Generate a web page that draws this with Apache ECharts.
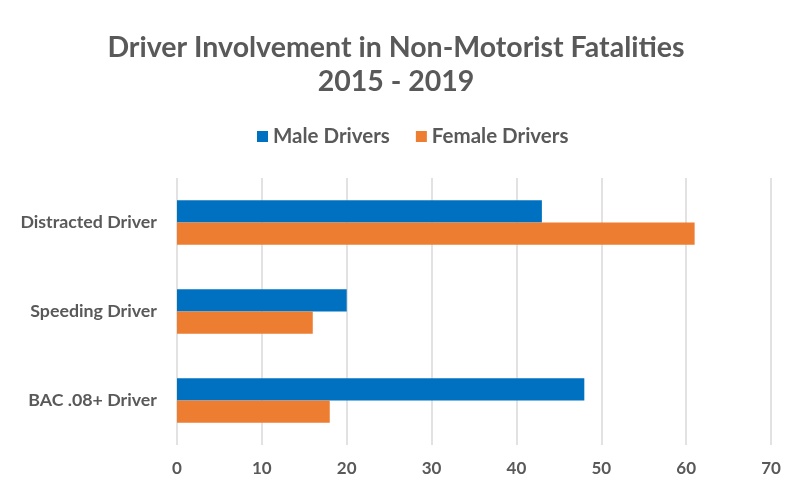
<!DOCTYPE html>
<html>
<head>
<meta charset="utf-8">
<script src="https://cdn.jsdelivr.net/npm/echarts@6/dist/echarts.min.js"></script>
<style>
  html, body { margin: 0; padding: 0; background: #fff; }
  #chart { width: 792px; height: 484px; }
</style>
</head>
<body>
<div id="chart"></div>
<script>
// Driver involvement data, 2015 - 2019
const categories = ['Distracted Driver', 'Speeding Driver', 'BAC .08+ Driver'];
const maleDrivers = [43, 20, 48];
const femaleDrivers = [61, 16, 18];
const xTicks = { min: 0, max: 70, interval: 10 };

const textColor = '#595959';
const font = 'Lato, "Open Sans", sans-serif';

const chart = echarts.init(document.getElementById('chart'), null, { renderer: 'canvas' });
chart.setOption({
  animation: false,
  backgroundColor: '#ffffff',
  title: {
    text: 'Driver Involvement in Non-Motorist Fatalities\n2015 - 2019',
    left: 'center',
    top: 26,
    textStyle: {
      fontFamily: font,
      fontWeight: 'bold',
      fontSize: 28.5,
      lineHeight: 34,
      color: textColor
    }
  },
  legend: {
    top: 121,
    left: 252,
    itemWidth: 11,
    itemHeight: 11,
    itemGap: 26,
    icon: 'rect',
    textStyle: { fontFamily: font, fontWeight: 'bold', fontSize: 20.5, color: textColor }
  },
  grid: { left: 177, right: 21, top: 178, bottom: 39, containLabel: false },
  xAxis: {
    type: 'value',
    min: xTicks.min,
    max: xTicks.max,
    interval: xTicks.interval,
    axisLine: { show: false },
    axisTick: { show: false },
    splitLine: { lineStyle: { color: '#d9d9d9', width: 1.5 } },
    axisLabel: {
      margin: 15,
      fontFamily: font,
      fontWeight: 'bold',
      fontSize: 17,
      color: textColor
    }
  },
  yAxis: {
    type: 'category',
    data: categories,
    inverse: true,
    axisLine: { show: false },
    axisTick: { show: false },
    axisLabel: {
      margin: 20,
      fontFamily: font,
      fontWeight: 'bold',
      fontSize: 17.8,
      color: textColor
    }
  },
  series: [
    {
      name: 'Male Drivers',
      type: 'bar',
      data: maleDrivers,
      barGap: '0%',
      barCategoryGap: '50%',
      itemStyle: { color: '#0070c0' }
    },
    {
      name: 'Female Drivers',
      type: 'bar',
      data: femaleDrivers,
      itemStyle: { color: '#ed7d31' }
    }
  ]
});
</script>
</body>
</html>
